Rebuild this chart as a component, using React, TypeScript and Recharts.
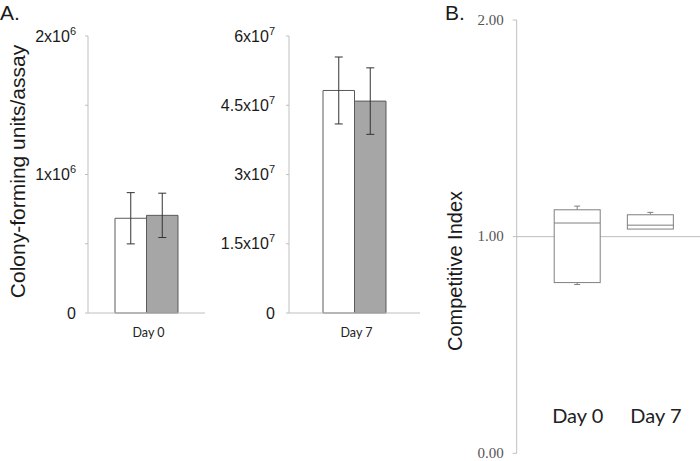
import React from 'react';
import {
  BarChart,
  Bar,
  XAxis,
  YAxis,
  ErrorBar,
  ComposedChart,
  ReferenceLine,
} from 'recharts';

// ---------- Panel A data ----------
const day0Categories = ['Day 0'];
const day0White = [684000];
const day0WhiteErr = [185000];
const day0Gray = [705000];
const day0GrayErr = [160000];
const day0Ticks = [0, 500000, 1000000, 1500000, 2000000];
const day0TickMantissa = ['0', '', '1x10', '', '2x10'];
const day0TickExp = ['', '', '6', '', '6'];

const day7Categories = ['Day 7'];
const day7White = [48200000];
const day7WhiteErr = [7250000];
const day7Gray = [45900000];
const day7GrayErr = [7200000];
const day7Ticks = [0, 15000000, 30000000, 45000000, 60000000];
const day7TickMantissa = ['0', '1.5x10', '3x10', '4.5x10', '6x10'];
const day7TickExp = ['', '7', '7', '7', '7'];

// ---------- Panel B data ----------
const boxCategories = ['Day 0', 'Day 7'];
const boxMin = [0.779, 1.035];
const boxQ1 = [0.788, 1.035];
const boxMedian = [1.063, 1.053];
const boxQ3 = [1.124, 1.101];
const boxMax = [1.141, 1.112];
const ciTicks = [0, 1, 2];
const ciTickLabels = ['0.00', '1.00', '2.00'];

const day0Data = day0Categories.map((c, i) => ({
  day: c,
  white: day0White[i],
  whiteErr: day0WhiteErr[i],
  gray: day0Gray[i],
  grayErr: day0GrayErr[i],
}));
const day7Data = day7Categories.map((c, i) => ({
  day: c,
  white: day7White[i],
  whiteErr: day7WhiteErr[i],
  gray: day7Gray[i],
  grayErr: day7GrayErr[i],
}));
const boxData = boxCategories.map((c, i) => ({
  day: c,
  range: [boxMin[i], boxMax[i]],
  min: boxMin[i],
  q1: boxQ1[i],
  median: boxMedian[i],
  q3: boxQ3[i],
  max: boxMax[i],
}));

const SANS = '"Liberation Sans", Arial, sans-serif';
const AXIS = '#bfbfbf';
const BAR_STROKE = '#5a5a5a';
const GRAY_FILL = '#a6a6a6';
const ERR = '#333333';

const makeSciTick = (ticks: number[], mant: string[], exp: string[]) => (props: any) => {
  const { x, y, payload } = props;
  const i = ticks.indexOf(payload.value);
  if (i < 0 || !mant[i]) return <g />;
  const hasExp = !!exp[i];
  return (
    <text
      x={x}
      y={y + 5.7}
      textAnchor="end"
      fontSize={16}
      fontFamily={SANS}
      fill="#1a1a1a"
    >
      <tspan>{mant[i]}</tspan>
      {hasExp && (
        <tspan dy={-7} fontSize={11}>
          {exp[i]}
        </tspan>
      )}
    </text>
  );
};

const DayTick = (props: any) => {
  const { x, y, payload } = props;
  return (
    <text x={x + 2} y={y} dy="0.71em" textAnchor="middle" fontSize={12.5} fontFamily="Lato, 'Open Sans', sans-serif" fill="#222">
      {payload.value}
    </text>
  );
};

const BoxTick = (props: any) => {
  const { x, payload, index } = props;
  const dx = index === 1 ? 6 : 1;
  return (
    <text x={x + dx} y={422.7} textAnchor="middle" fontSize={20} fontFamily="Lato, 'Open Sans', sans-serif" fill="#222">
      {payload.value}
    </text>
  );
};

const CiTick = (props: any) => {
  const { x, y, payload } = props;
  const i = ciTicks.indexOf(payload.value);
  return (
    <text x={x} y={y + 4.5} textAnchor="end" fontSize={15} fontFamily='"Liberation Serif", serif' fill="#555">
      {ciTickLabels[i]}
    </text>
  );
};

const BoxShape = (props: any) => {
  const { x, y, width, height, payload } = props;
  const { min, q1, median, q3, max } = payload;
  const k = height / (max - min);
  const yOf = (v: number) => y + (max - v) * k;
  const cx = x + width / 2;
  const s = '#7f7f7f';
  return (
    <g>
      <line x1={cx} x2={cx} y1={yOf(max)} y2={yOf(q3)} stroke={s} strokeWidth={1} />
      <line x1={cx - 3} x2={cx + 3} y1={yOf(max)} y2={yOf(max)} stroke={s} strokeWidth={1} />
      <line x1={cx} x2={cx} y1={yOf(q1)} y2={yOf(min)} stroke={s} strokeWidth={1} />
      {min < q1 && (
        <line x1={cx - 3} x2={cx + 3} y1={yOf(min)} y2={yOf(min)} stroke={s} strokeWidth={1} />
      )}
      <rect x={x} y={yOf(q3)} width={width} height={yOf(q1) - yOf(q3)} fill="#ffffff" stroke={s} strokeWidth={1} />
      <line x1={x} x2={x + width} y1={yOf(median)} y2={yOf(median)} stroke={s} strokeWidth={1} />
    </g>
  );
};

export default function App() {
  return (
    <div style={{ position: 'absolute', left: 0, top: 0, width: 700, height: 461, background: '#fff', overflow: 'hidden' }}>
      {/* Panel A, Day 0 */}
      <div style={{ position: 'absolute', left: 0, top: 0 }}>
        <BarChart
          width={215}
          height={350}
          data={day0Data}
          margin={{ top: 36, right: 10, bottom: 7, left: 0 }}
          barGap={0}
          barSize={31.5}
        >
          <XAxis
            dataKey="day"
            axisLine={{ stroke: AXIS }}
            tickLine={false}
            tickSize={0}
            tickMargin={15}
            height={30}
            tick={<DayTick />}
          />
          <YAxis
            width={88}
            domain={[0, 2000000]}
            ticks={day0Ticks}
            interval={0}
            axisLine={{ stroke: AXIS }}
            tickLine={{ stroke: AXIS }}
            tickSize={3}
            tickMargin={9}
            tick={makeSciTick(day0Ticks, day0TickMantissa, day0TickExp)}
          />
          <Bar dataKey="white" fill="#ffffff" stroke={BAR_STROKE} strokeWidth={1} isAnimationActive={false}>
            <ErrorBar dataKey="whiteErr" width={4} stroke={ERR} strokeWidth={1} direction="y" />
          </Bar>
          <Bar dataKey="gray" fill={GRAY_FILL} stroke={BAR_STROKE} strokeWidth={1} isAnimationActive={false}>
            <ErrorBar dataKey="grayErr" width={4} stroke={ERR} strokeWidth={1} direction="y" />
          </Bar>
        </BarChart>
      </div>

      {/* Panel A, Day 7 */}
      <div style={{ position: 'absolute', left: 215, top: 0 }}>
        <BarChart
          width={215}
          height={350}
          data={day7Data}
          margin={{ top: 36, right: 10, bottom: 7, left: 0 }}
          barGap={0}
          barSize={31.5}
        >
          <XAxis
            dataKey="day"
            axisLine={{ stroke: AXIS }}
            tickLine={false}
            tickSize={0}
            tickMargin={15}
            height={30}
            tick={<DayTick />}
          />
          <YAxis
            width={74}
            domain={[0, 60000000]}
            ticks={day7Ticks}
            interval={0}
            axisLine={{ stroke: AXIS }}
            tickLine={{ stroke: AXIS }}
            tickSize={3}
            tickMargin={11}
            tick={makeSciTick(day7Ticks, day7TickMantissa, day7TickExp)}
          />
          <Bar dataKey="white" fill="#ffffff" stroke={BAR_STROKE} strokeWidth={1} isAnimationActive={false}>
            <ErrorBar dataKey="whiteErr" width={4} stroke={ERR} strokeWidth={1} direction="y" />
          </Bar>
          <Bar dataKey="gray" fill={GRAY_FILL} stroke={BAR_STROKE} strokeWidth={1} isAnimationActive={false}>
            <ErrorBar dataKey="grayErr" width={4} stroke={ERR} strokeWidth={1} direction="y" />
          </Bar>
        </BarChart>
      </div>

      {/* Panel B */}
      <div style={{ position: 'absolute', left: 430, top: 0 }}>
        <ComposedChart
          width={270}
          height={461}
          data={boxData}
          margin={{ top: 20, right: 0, bottom: 0, left: 0 }}
          barSize={46}
        >
          <XAxis
            dataKey="day"
            axisLine={false}
            tickLine={false}
            height={7.7}
            padding={{ left: 23.5, right: 13.5 }}
            tick={<BoxTick />}
            interval={0}
          />
          <YAxis
            width={86.7}
            domain={[0, 2]}
            ticks={ciTicks}
            interval={0}
            axisLine={{ stroke: AXIS }}
            tickLine={{ stroke: AXIS }}
            tickSize={4}
            tickMargin={9}
            tick={<CiTick />}
          />
          <ReferenceLine y={1} stroke="#bdbdbd" strokeWidth={1} zIndex={-10} />
          <Bar dataKey="range" shape={<BoxShape />} isAnimationActive={false} />
        </ComposedChart>
      </div>

      {/* Titles */}
      <svg width={700} height={461} style={{ position: 'absolute', left: 0, top: 0, pointerEvents: 'none' }}>
        <text x={0} y={20} fontSize={21} fontFamily={SANS} fill="#1a1a1a">A.</text>
        <text x={445} y={20} fontSize={21} fontFamily={SANS} fill="#1a1a1a">B.</text>
        <text
          transform="translate(25,171.5) rotate(-90)"
          textAnchor="middle"
          fontSize={21}
          fontFamily={SANS}
          fill="#1a1a1a"
        >
          Colony-forming units/assay
        </text>
        <text
          transform="translate(462,271) rotate(-90)"
          textAnchor="middle"
          fontSize={20}
          fontFamily={SANS}
          fill="#1a1a1a"
        >
          Competitive Index
        </text>
      </svg>
    </div>
  );
}
